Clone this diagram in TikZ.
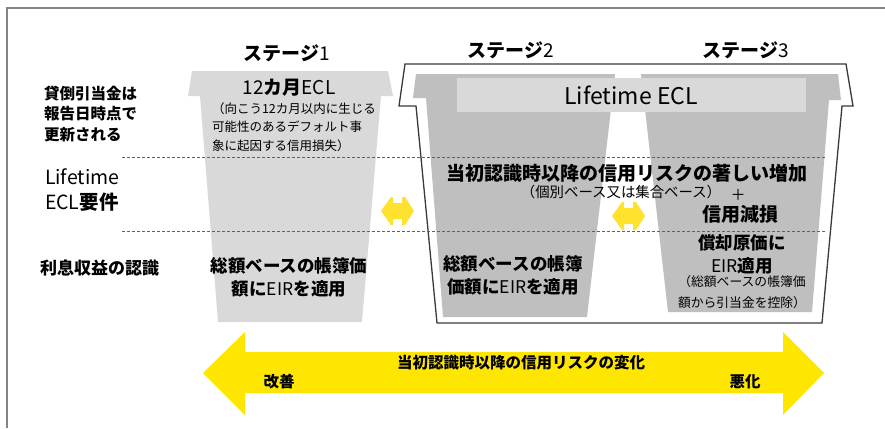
\documentclass[tikz,border=0pt]{standalone}
\usepackage{fontspec}
\setmainfont{Noto Sans CJK JP}
\definecolor{lgray}{HTML}{D9D9D9}
\definecolor{mgray}{HTML}{BFBFBF}
\definecolor{ygold}{HTML}{FFE600}
\definecolor{ylight}{HTML}{FFE22E}
\definecolor{framegray}{HTML}{858585}
\definecolor{outl}{HTML}{3A3A3A}
\begin{document}
\begin{tikzpicture}[x=1pt,y=-1pt,
  txt/.style={inner sep=0pt, outer sep=0pt, text=black},
  dline/.style={draw=outl!80, line width=0.7pt, dash pattern=on 3pt off 2pt},
  framel/.style={draw=framegray, line width=2pt},
  outline/.style={draw=outl, line width=1.3pt, line join=miter},
  fa/.style={font=\fontsize{19}{23}\selectfont},
  fb/.style={font=\fontsize{17.5}{23}\selectfont},
  fc/.style={font=\fontsize{12.5}{18.5}\selectfont},
  fd/.style={font=\fontsize{15.5}{20.7}\selectfont}]
\useasboundingbox (0,0) rectangle (885,428);
\fill[white] (0,0) rectangle (885,428);
\draw[framel] (7,428) -- (7,8) -- (885,8);

% outline around stages 2 and 3
\draw[outline] (405,64) -- (399,106) -- (416,106) -- (437,323) -- (822,323) -- (842,106) -- (853,106) -- (846,64) -- cycle;

% stage 1 cup
\fill[lgray] (192,71) -- (388,71) -- (393,96) -- (381,96) -- (362,322) -- (218,322) -- (200,96) -- (188,96) -- cycle;
% stage 2 cup
\fill[mgray] (416,74) -- (615,74) -- (587,317) -- (443,317) -- (426,98) -- (413,98) -- cycle;
% stage 3 cup
\fill[mgray] (641,74) -- (838,74) -- (841,100) -- (829,100) -- (812,312) -- (668,312) -- cycle;
% Lifetime ECL box
\fill[lgray] (457,78) rectangle (806,112);

% dashed lines
\draw[dline] (122,157) -- (825,157);
\draw[dline] (122,231) -- (825,231);

% small double arrows
\fill[ylight] (381,211) -- (391,197) -- (393,197) -- (393,203) -- (402,203) -- (402,197) -- (405,197) -- (414,211) -- (405,225) -- (402,225) -- (402,219) -- (393,219) -- (393,225) -- (391,225) -- cycle;
\begin{scope}[shift={(231,5)}]
\fill[ylight] (381,211) -- (391,197) -- (393,197) -- (393,203) -- (402,203) -- (402,197) -- (405,197) -- (414,211) -- (405,225) -- (402,225) -- (402,219) -- (393,219) -- (393,225) -- (391,225) -- cycle;
\end{scope}

% big arrow
\fill[ygold] (203,373) -- (245,332) -- (245,352) -- (783,352) -- (783,332) -- (824,373) -- (783,415) -- (783,393) -- (245,393) -- (245,415) -- cycle;

% stage titles
\node[txt,fa] (s1) at (287,53) {\textbf{ステージ}1};
\node[txt,fa] (s2) at (511,50) {\textbf{ステージ}2};
\node[txt,fa] (s3) at (746,50) {\textbf{ステージ}3};

% left labels
\node[txt,fd,anchor=west,align=left] (l1) at (44,114) {\textbf{貸倒引当金は}\\\textbf{報告日時点で}\\\textbf{更新される}};
\node[txt,anchor=west,align=left,font=\fontsize{19.5}{25}\selectfont] (l2) at (45,190) {Lifetime\\ECL\textbf{要件}};
\node[txt,anchor=west,font=\fontsize{17}{20}\selectfont] (l3) at (40,268) {\textbf{利息収益の認識}};

% stage 1 texts
\node[txt,fa] (e1) at (289,88) {12\textbf{カ月}ECL};
\node[txt,fc,anchor=west,align=left] (e1n) at (212,127) {（向こう12カ月以内に生じる\\可能性のあるデフォルト事\\象に起因する信用損失）};
\node[txt,fb,align=center] (i1) at (289,277) {\textbf{総額ベースの帳簿価}\\\textbf{額に}EIR\textbf{を適用}};

% stage 2/3 texts
\node[txt,font=\fontsize{23}{26}\selectfont] (lt) at (631,95) {Lifetime ECL};
\node[txt,fa] (sig) at (627,173) {\textbf{当初認識時以降の信用リスクの著しい増加}};
\node[txt,font=\fontsize{14.4}{16}\selectfont] (ind) at (621,192) {（個別ベース又は集合ベース）};
\node[txt,font=\fontsize{15}{16}\selectfont] (plus) at (738,195) {＋};
\node[txt,fa] (imp) at (740,214) {\textbf{信用減損}};
\node[txt,fb,align=center] (i2) at (513,275) {\textbf{総額ベースの帳簿}\\\textbf{価額に}EIR\textbf{を適用}};
\node[txt,fb,align=center] (i3) at (742,254) {\textbf{償却原価に}\\EIR\textbf{適用}};
\node[txt,font=\fontsize{12.8}{21}\selectfont,align=center] (i3n) at (742,292) {（総額ベースの帳簿価\\額から引当金を控除）};

% big arrow texts
\node[txt,font=\fontsize{15.5}{18}\selectfont] (chg) at (521,363) {\textbf{当初認識時以降の信用リスクの変化}};
\node[txt,font=\fontsize{15.5}{18}\selectfont] (imv) at (279,382) {\textbf{改善}};
\node[txt,font=\fontsize{15.5}{18}\selectfont] (det) at (745,382) {\textbf{悪化}};
\end{tikzpicture}
\end{document}
